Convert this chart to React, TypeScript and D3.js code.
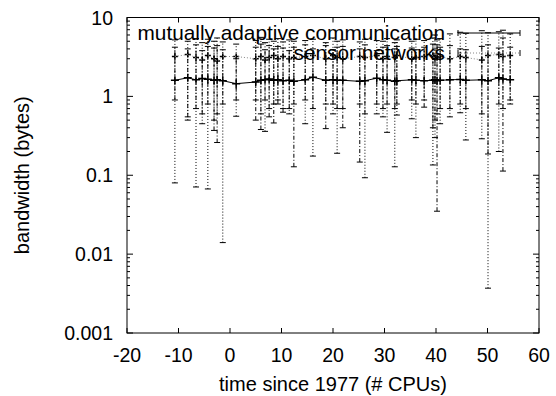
import React from "react";
import * as d3 from "d3";

const xs = [-10.7, -8.2, -6.6, -5.4, -4.3, -3.1, -2.5, -1.4, 1.2, 5.0, 6.0, 6.8, 7.6, 8.5, 9.3, 10.3, 11.5, 12.4, 14.6, 16.1, 18.6, 20.0, 20.8, 21.9, 25.2, 26.2, 28.5, 29.7, 30.5, 32.0, 32.4, 35.3, 36.1, 37.7, 39.4, 39.8, 40.2, 40.8, 42.7, 44.7, 45.8, 48.9, 50.1, 52.2, 53.0, 54.4];

const s1Vals = [1.6, 1.72, 1.62, 1.68, 1.65, 1.6, 1.62, 1.58, 1.45, 1.52, 1.6, 1.62, 1.66, 1.6, 1.62, 1.58, 1.6, 1.55, 1.62, 1.75, 1.6, 1.62, 1.6, 1.6, 1.55, 1.58, 1.7, 1.62, 1.6, 1.55, 1.58, 1.62, 1.6, 1.58, 1.6, 1.62, 1.58, 1.6, 1.62, 1.64, 1.6, 1.62, 1.58, 1.72, 1.66, 1.62];
const s1Lo = [0.9, 0.55, 0.7, 0.6, 0.8, 0.37, 0.26, 0.8, 0.9, 0.5, 0.38, 0.9, 0.55, 0.46, 0.8, 0.63, 0.7, 0.128, 0.9, 0.7, 0.39, 0.8, 0.7, 0.4, 0.147, 0.6, 0.8, 0.7, 0.8, 0.7, 0.8, 0.9, 0.8, 0.73, 0.4, 0.5, 0.035, 0.7, 0.7, 0.8, 0.7, 0.6, 0.186, 0.8, 0.113, 0.9];
const s1Hi = [4.2, 4.0, 4.5, 3.8, 4.3, 4.1, 4.4, 3.9, 3.0, 4.2, 4.6, 3.9, 4.4, 4.0, 4.3, 4.1, 3.8, 4.2, 4.5, 4.0, 4.4, 3.9, 4.2, 4.3, 4.0, 4.5, 3.8, 4.2, 4.4, 4.0, 4.3, 4.1, 3.9, 4.2, 4.6, 4.0, 4.5, 4.2, 4.4, 4.0, 3.9, 4.3, 4.5, 4.1, 5.5, 4.2];

const s2Vals = [3.2, 3.4, 3.1, 2.9, 3.3, 3.0, 2.8, 3.2, 3.2, 3.0, 3.2, 2.9, 3.1, 3.3, 3.0, 3.2, 3.0, 3.1, 3.2, 3.3, 3.0, 3.3, 3.1, 3.0, 3.2, 3.1, 3.3, 3.0, 3.2, 3.1, 3.3, 3.0, 3.1, 3.2, 3.3, 3.0, 3.1, 3.2, 3.0, 3.2, 3.1, 2.9, 3.3, 3.4, 3.2, 3.3];
const s2Lo = [0.08, 0.5, 0.071, 0.45, 0.067, 0.5, 0.6, 0.014, 0.56, 0.9, 0.6, 0.36, 0.7, 0.8, 0.9, 0.7, 0.6, 0.8, 0.45, 0.175, 0.8, 0.6, 0.19, 0.7, 0.8, 0.093, 0.6, 0.55, 0.35, 0.128, 0.58, 0.52, 0.3, 0.9, 0.135, 0.3, 0.6, 0.45, 0.55, 0.62, 0.28, 0.29, 0.0037, 0.2, 0.7, 0.8];
const s2Hi = [5.2, 5.0, 5.4, 4.8, 5.3, 5.0, 5.5, 4.9, 4.6, 5.1, 5.6, 4.8, 5.3, 5.0, 5.4, 4.9, 5.2, 5.0, 5.1, 5.3, 4.8, 5.5, 5.0, 5.2, 4.9, 5.3, 5.1, 5.0, 5.4, 4.8, 5.2, 5.0, 5.3, 5.1, 5.5, 6.0, 5.2, 5.4, 6.2, 6.5, 6.3, 6.8, 6.4, 6.6, 6.9, 6.2];

const xTicks = [-20, -10, 0, 10, 20, 30, 40, 50, 60];
const yTicks = [0.001, 0.01, 0.1, 1, 10];
const yTickLabels = ["0.001", "0.01", "0.1", "1", "10"];
const seriesNames = ["mutually adaptive communication", "sensor networks"];
const xTitle = "time since 1977 (# CPUs)";
const yTitle = "bandwidth (bytes)";

const W = 556, H = 396;
const L = 127, R = 539, T = 17.5, B = 333;
const FONT = "'Liberation Sans', Arial, Helvetica, sans-serif";

export default function App() {
  const x = d3.scaleLinear().domain([-20, 60]).range([L, R]);
  const y = d3.scaleLog().domain([0.001, 10]).range([B, T]);

  const minor: number[] = [];
  for (let e = -3; e < 1; e++) {
    for (let k = 2; k <= 9; k++) minor.push(k * Math.pow(10, e));
  }

  const idx = xs.map((_, i) => i);
  const line1 = d3.line<number>().x((i) => x(xs[i])).y((i) => y(s1Vals[i]))(idx) || "";
  const line2 = d3.line<number>().x((i) => x(xs[i])).y((i) => y(s2Vals[i]))(idx) || "";

  const series = [
    { vals: s1Vals, lo: s1Lo, hi: s1Hi, dash: "4,2,1,2", m: 4 },
    { vals: s2Vals, lo: s2Lo, hi: s2Hi, dash: "1,2", m: 3 },
  ];

  return (
    <svg width={W} height={H} style={{ position: "absolute", left: 0, top: 0, background: "#fff" }}>
      <rect x={0} y={0} width={W} height={H} fill="#fff" />
      {series.map((s, si) => (
        <g key={si} stroke="#000" strokeWidth={1} fill="none">
          {xs.map((xv, i) => {
            const px = x(xv);
            const py = y(s.vals[i]);
            return (
              <g key={i}>
                <line x1={px} x2={px} y1={y(s.lo[i])} y2={y(s.hi[i])} strokeDasharray={s.dash} />
                <line x1={px - 3} x2={px + 3} y1={y(s.lo[i])} y2={y(s.lo[i])} />
                <line x1={px - 3} x2={px + 3} y1={y(s.hi[i])} y2={y(s.hi[i])} />
                <path d={`M${px - s.m},${py}H${px + s.m}M${px},${py - s.m}V${py + s.m}`} strokeWidth={1.5} />
              </g>
            );
          })}
        </g>
      ))}
      <path d={line1} stroke="#000" strokeWidth={1} fill="none" />
      <path d={line2} stroke="#888" strokeWidth={1} strokeDasharray="1,2" fill="none" />

      <g stroke="#000" strokeWidth={1}>
        {xTicks.map((t) => (
          <g key={t}>
            <line x1={x(t)} x2={x(t)} y1={B} y2={B - 5} />
            <line x1={x(t)} x2={x(t)} y1={T} y2={T + 5} />
          </g>
        ))}
        {yTicks.map((t) => (
          <g key={t}>
            <line x1={L} x2={L + 6} y1={y(t)} y2={y(t)} />
            <line x1={R} x2={R - 6} y1={y(t)} y2={y(t)} />
          </g>
        ))}
        {minor.map((t) => (
          <g key={t}>
            <line x1={L} x2={L + 3} y1={y(t)} y2={y(t)} />
            <line x1={R} x2={R - 3} y1={y(t)} y2={y(t)} />
          </g>
        ))}
      </g>
      <rect x={L} y={T} width={R - L} height={B - T} fill="none" stroke="#000" strokeWidth={1} />

      <g fontFamily={FONT} fontSize={19.5} fill="#000">
        {xTicks.map((t) => (
          <text key={t} x={x(t)} y={362} textAnchor="middle">{t}</text>
        ))}
        {yTicks.map((t, i) => (
          <text key={t} x={113} y={y(t) + 7} textAnchor="end">{yTickLabels[i]}</text>
        ))}
      </g>
      <g fontFamily={FONT} fontSize={20} fill="#000">
        <text x={(L + R) / 2} y={391} textAnchor="middle">{xTitle}</text>
        <text transform={`translate(29,${(T + B) / 2}) rotate(-90)`} textAnchor="middle">{yTitle}</text>
      </g>

      <g fontFamily={FONT} fontSize={20.8} fill="#000">
        <text x={445} y={40} textAnchor="end">{seriesNames[0]}</text>
        <text x={445} y={60} textAnchor="end">{seriesNames[1]}</text>
      </g>
      <g stroke="#000" strokeWidth={1}>
        <line x1={458} x2={520} y1={33} y2={33} />
        <line x1={458} x2={458} y1={30} y2={36} />
        <line x1={520} x2={520} y1={30} y2={36} />
        <line x1={458} x2={520} y1={53} y2={53} stroke="#888" strokeDasharray="1,2" />
        <line x1={458} x2={458} y1={50} y2={56} />
        <line x1={520} x2={520} y1={50} y2={56} />
      </g>
    </svg>
  );
}
